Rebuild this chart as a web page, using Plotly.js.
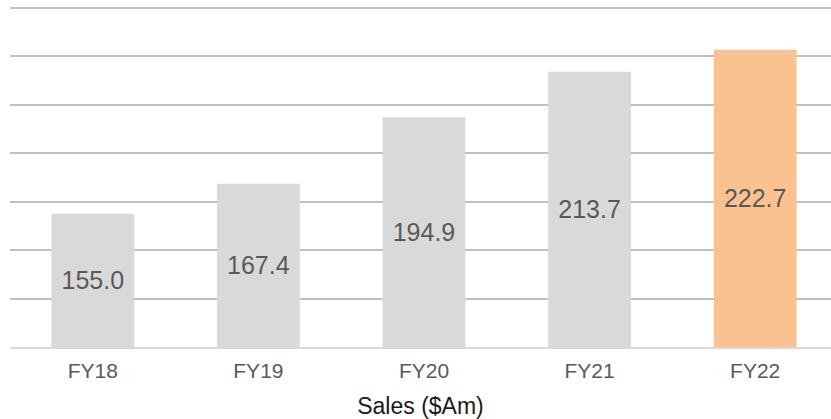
<!DOCTYPE html>
<html>
<head>
<meta charset="utf-8">
<script src="https://cdn.plot.ly/plotly-3.0.1.min.js"></script>
<style>html,body{margin:0;padding:0;background:#fff;}#chart{width:831px;height:419px;}</style>
</head>
<body>
<div id="chart"></div>
<script>
const categories = ["FY18", "FY19", "FY20", "FY21", "FY22"];
const sales = [155.0, 167.4, 194.9, 213.7, 222.7];
const barColors = ["#d9d9d9", "#d9d9d9", "#d9d9d9", "#d9d9d9", "#f9c290"];
const axisMin = 100;

const trace = {
  type: "bar",
  x: categories,
  y: sales.map(v => v - axisMin),
  base: axisMin,
  text: sales.map(v => v.toFixed(1)),
  textposition: "inside",
  insidetextanchor: "middle",
  textangle: 0,
  insidetextfont: {family: "Liberation Sans, Arial, sans-serif", size: 25, color: "#595959"},
  marker: {color: barColors},
  width: 0.5,
  hoverinfo: "skip"
};

const layout = {
  width: 831, height: 419,
  margin: {l: 10, r: 0, t: 6, b: 72},
  paper_bgcolor: "#ffffff",
  plot_bgcolor: "#ffffff",
  showlegend: false,
  font: {family: "Liberation Sans, Arial, sans-serif", color: "#595959"},
  xaxis: {
    type: "category",
    range: [-0.5, 4.458],
    showgrid: false,
    showline: true,
    linecolor: "#d9d9d9",
    linewidth: 2,
    ticks: "",
    ticklabelstandoff: 4,
    tickfont: {size: 21, color: "#595959"},
    title: {text: "Sales ($Am)", font: {size: 23, color: "#1a1a1a"}, standoff: 17}
  },
  yaxis: {
    range: [100, 240.8],
    dtick: 20,
    tick0: 0,
    showticklabels: false,
    showgrid: true,
    gridcolor: "#bfbfbf",
    gridwidth: 2,
    zeroline: false,
    showline: false,
    ticks: ""
  }
};

Plotly.newPlot("chart", [trace], layout, {staticPlot: true, displayModeBar: false});
</script>
</body>
</html>
